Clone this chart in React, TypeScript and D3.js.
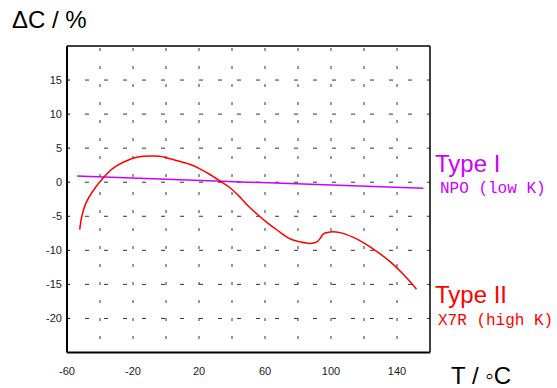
import React from "react";
import * as d3 from "d3";

const xTicks = [-60, -20, 20, 60, 100, 140];
const yTicks = [15, 10, 5, 0, -5, -10, -15, -20];
const xGrid = [-40, -20, 0, 20, 40, 60, 80, 100, 120, 140];

const typeIT = [-54, 156];
const typeIC = [0.9, -0.9];

const typeIIT = [-52.3, -51.1, -48.6, -44.6, -38.5, -32.4, -25.3, -17.2, -8.1, -4, 6.2, 14.3, 20.3, 26.4, 33.5, 38.6, 44.7, 49.7, 54.8, 60.9, 67.5, 75.1, 81.2, 87.3, 91.4, 93.4, 95.4, 99.5, 105.5, 113.6, 121.8, 127.9, 136, 144.1, 151.8];
const typeIIC = [-6.95, -5.1, -3.1, -1.4, 0.5, 2.0, 3.0, 3.7, 3.86, 3.82, 3.2, 2.64, 2.0, 1.17, 0.05, -0.78, -2.15, -3.45, -4.6, -5.85, -7.05, -8.3, -8.76, -9.0, -8.76, -8.26, -7.6, -7.3, -7.4, -8.1, -9.2, -10.2, -11.7, -13.6, -15.7];

const PURPLE = "#cc00ff";
const RED = "#ff0000";

export default function App() {
  const left = 67, right = 430, top = 46, bottom = 352.5;
  const x = d3.scaleLinear().domain([-60, 160]).range([left, right]);
  const y = d3.scaleLinear().domain([-25, 20]).range([bottom, top]);
  const curved = d3.line<[number, number]>().x(d => x(d[0])).y(d => y(d[1])).curve(d3.curveCatmullRom);
  const straight = d3.line<[number, number]>().x(d => x(d[0])).y(d => y(d[1]));
  const redPts: [number, number][] = typeIIT.map((t, i) => [t, typeIIC[i]]);
  const purplePts: [number, number][] = typeIT.map((t, i) => [t, typeIC[i]]);
  const sans = "Arial, 'Liberation Sans', sans-serif";
  const mono = "'Courier New', 'Liberation Mono', monospace";
  return (
    <svg width={557} height={388} style={{ position: "absolute", left: 0, top: 0, background: "#fff" }}>
      {yTicks.map(v => (
        <line key={"h" + v} x1={left + 18} x2={right} y1={y(v)} y2={y(v)} stroke="#333" strokeWidth={1} strokeDasharray="4,15" />
      ))}
      {xGrid.map(v => (
        <line key={"v" + v} x1={x(v)} x2={x(v)} y1={top} y2={bottom} stroke="#333" strokeWidth={1} strokeDasharray="3,15" strokeDashoffset={-2} />
      ))}
      <line x1={left} x2={left} y1={top} y2={bottom} stroke="#000" strokeWidth={2} />
      <line x1={left} x2={right} y1={bottom} y2={bottom} stroke="#000" strokeWidth={2} />
      <line x1={left} x2={right} y1={top} y2={top} stroke="#000" strokeWidth={1.5} />
      <line x1={right} x2={right} y1={top} y2={bottom} stroke="#000" strokeWidth={1.5} />
      {yTicks.map(v => (
        <line key={"t" + v} x1={left} x2={left + 3} y1={y(v)} y2={y(v)} stroke="#000" strokeWidth={1} />
      ))}
      {yTicks.map(v => (
        <text key={"yl" + v} x={62} y={y(v) + 4} textAnchor="end" fontFamily={sans} fontSize={11} fill="#222">{v}</text>
      ))}
      {xTicks.map(v => (
        <text key={"xl" + v} x={x(v)} y={375} textAnchor="middle" fontFamily={sans} fontSize={11} fill="#222">{v}</text>
      ))}
      <path d={straight(purplePts) || ""} fill="none" stroke={PURPLE} strokeWidth={1.5} />
      <path d={curved(redPts) || ""} fill="none" stroke={RED} strokeWidth={1.5} />
      <text x={12} y={28} fontFamily={sans} fontSize={24} fill="#000">ΔC / %</text>
      <text x={451} y={384} fontFamily={sans} fontSize={24} fill="#000">T / ◦C</text>
      <text x={435} y={171.5} fontFamily={sans} fontSize={24} fill={PURPLE}>Type I</text>
      <text x={440} y={193} fontFamily={mono} fontSize={16} fill={PURPLE}>NPO (low K)</text>
      <text x={435} y={303} fontFamily={sans} fontSize={24} fill={RED}>Type II</text>
      <text x={438} y={325} fontFamily={mono} fontSize={16} fill={RED}>X7R (high K)</text>
    </svg>
  );
}
